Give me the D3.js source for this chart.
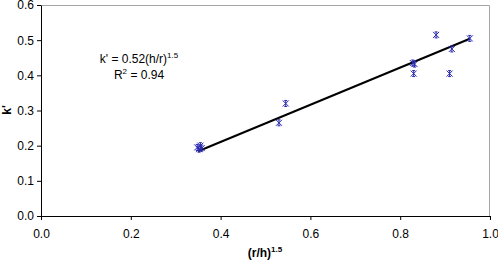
<!DOCTYPE html>
<html>
<head>
<meta charset="utf-8">
<script src="https://cdn.jsdelivr.net/npm/d3@7"></script>
<style>
  body { margin: 0; background: #fff; }
  text { font-family: "Liberation Sans", Arial, sans-serif; }
</style>
</head>
<body>
<div id="chart"></div>
<script>
// measured points (r/h)^1.5 vs k'
const xValues = [0.348, 0.352, 0.355, 0.358, 0.530, 0.545, 0.828, 0.832, 0.830, 0.880, 0.910, 0.915, 0.955];
const yValues = [0.195, 0.190, 0.200, 0.193, 0.265, 0.320, 0.435, 0.432, 0.405, 0.515, 0.405, 0.475, 0.505];
// fitted trend line end points
const trendX = [0.35, 0.955];
const trendY = [0.184, 0.504];
const xTicks = [0, 0.2, 0.4, 0.6, 0.8, 1.0];
const yTicks = [0, 0.1, 0.2, 0.3, 0.4, 0.5, 0.6];

const width = 498, height = 261;
const margin = {top: 5, right: 8, bottom: 45, left: 41};
const w = width - margin.left - margin.right;
const h = height - margin.top - margin.bottom;

const svg = d3.select("#chart").append("svg")
    .attr("width", width)
    .attr("height", height);

const g = svg.append("g")
    .attr("transform", `translate(${margin.left},${margin.top})`);

const x = d3.scaleLinear().domain([0, 1]).range([0, w]);
const y = d3.scaleLinear().domain([0, 0.6]).range([h, 0]);

// grey frame top/right
g.append("path")
    .attr("d", `M0,0.5H${w - 0.5}V${h}`)
    .attr("fill", "none")
    .attr("stroke", "#a6a6a6")
    .attr("stroke-width", 1);

const xAxis = g.append("g")
    .attr("transform", `translate(0,${h})`)
    .call(d3.axisBottom(x).tickValues(xTicks).tickFormat(d3.format(".1f")).tickSize(4).tickSizeOuter(0));

const yAxis = g.append("g")
    .call(d3.axisLeft(y).tickValues(yTicks).tickFormat(d3.format(".1f")).tickSize(4).tickSizeOuter(0));

[xAxis, yAxis].forEach(a => {
    a.select(".domain").attr("stroke", "#000");
    a.selectAll(".tick line").attr("stroke", "#000");
    a.selectAll("text").attr("fill", "#000").style("font-size", "12px")
        .style("font-family", "Liberation Sans, Arial, sans-serif");
});
xAxis.selectAll("text").attr("dy", "1.25em");
yAxis.selectAll("text").attr("x", -7);

// trend line
g.append("line")
    .attr("x1", x(trendX[0])).attr("y1", y(trendY[0]))
    .attr("x2", x(trendX[1])).attr("y2", y(trendY[1]))
    .attr("stroke", "#000")
    .attr("stroke-width", 2);

// star markers
const pts = xValues.map((v, i) => ({x: v, y: yValues[i]}));
const s = 3;
g.selectAll("path.pt")
    .data(pts)
    .enter()
    .append("path")
    .attr("class", "pt")
    .attr("transform", d => `translate(${x(d.x)},${y(d.y)})`)
    .attr("d", `M${-s},${-s}L${s},${s}M${-s},${s}L${s},${-s}M0,${-s}V${s}M-1.5,${-s}H1.5M-1.5,${s}H1.5`)
    .attr("fill", "none")
    .attr("stroke", "#2a2ab0")
    .attr("stroke-width", 1);

// annotation
const ann = svg.append("text")
    .attr("x", 139).attr("y", 63)
    .attr("text-anchor", "middle")
    .style("font-size", "12px");
ann.append("tspan").text("k' = 0.52(h/r)");
ann.append("tspan").attr("dy", -5).style("font-size", "8px").text("1.5");

const r2 = svg.append("text")
    .attr("x", 139).attr("y", 79)
    .attr("text-anchor", "middle")
    .style("font-size", "12px");
r2.append("tspan").text("R");
r2.append("tspan").attr("dy", -5).style("font-size", "8px").text("2");
r2.append("tspan").attr("dy", 5).text(" = 0.94");

// axis titles
const xt = svg.append("text")
    .attr("x", 265).attr("y", 257)
    .attr("text-anchor", "middle")
    .style("font-size", "12px")
    .style("font-weight", "bold");
xt.append("tspan").text("(r/h)");
xt.append("tspan").attr("dy", -5).style("font-size", "8px").text("1.5");

svg.append("text")
    .attr("transform", "translate(11,110) rotate(-90)")
    .attr("text-anchor", "middle")
    .style("font-size", "12px")
    .style("font-weight", "bold")
    .text("k'");
</script>
</body>
</html>
